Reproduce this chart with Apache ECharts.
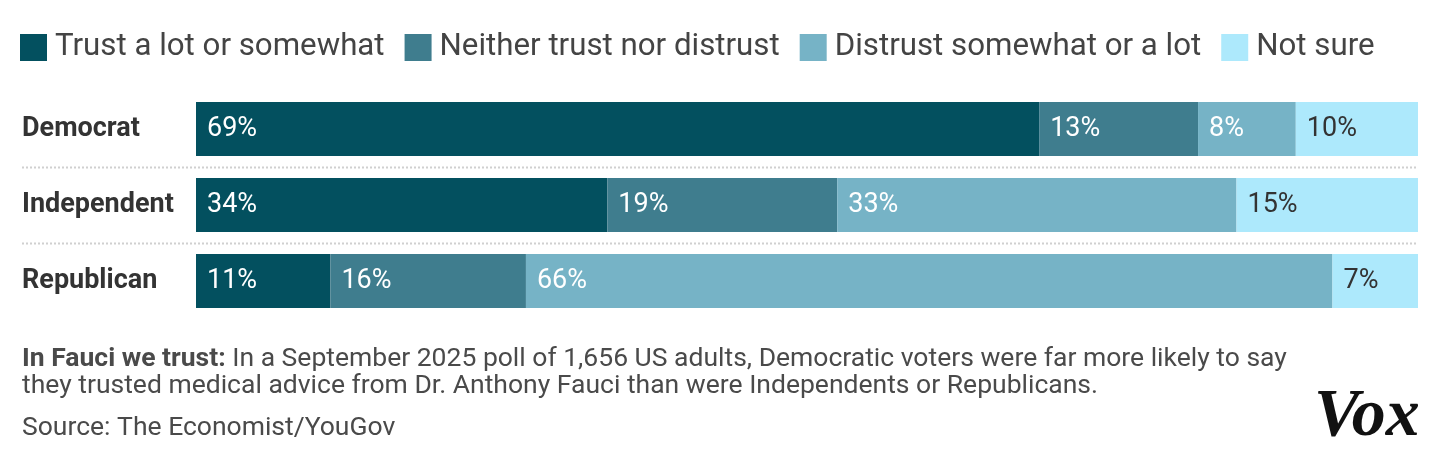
<!DOCTYPE html>
<html><head><meta charset="utf-8">
<script src="https://cdn.jsdelivr.net/npm/echarts@6/dist/echarts.min.js"></script>
<style>html,body{margin:0;padding:0;background:#fff;}#c{width:1440px;height:462px;}</style>
</head><body><div id="c"></div>
<script>
const categories = ['Democrat', 'Independent', 'Republican'];
const seriesNames = ['Trust a lot or somewhat', 'Neither trust nor distrust', 'Distrust somewhat or a lot', 'Not sure'];
const trust = [69, 34, 11];
const neither = [13, 19, 16];
const distrust = [8, 33, 66];
const notSure = [10, 15, 7];
const colors = ['#03505f', '#3f7d8e', '#76b3c6', '#ade9fc'];
const labelColors = ['#ffffff', '#ffffff', '#ffffff', '#333333'];

const raw = [trust, neither, distrust, notSure];
const rowSums = categories.map((_, i) => raw.reduce((s, arr) => s + arr[i], 0));
const FONT = 'Roboto, "Liberation Sans", sans-serif';

const chart = echarts.init(document.getElementById('c'), null, {renderer: 'canvas'});
const series = raw.map((arr, k) => ({
  name: seriesNames[k],
  type: 'bar',
  stack: 'all',
  barCategoryGap: '29%',
  data: arr.map((v, i) => ({value: v / rowSums[i] * 100, raw: v})),
  itemStyle: {color: colors[k]},
  label: {
    show: true,
    position: 'insideLeft',
    distance: 11,
    color: labelColors[k],
    fontFamily: FONT,
    fontSize: 27,
    formatter: p => p.data.raw + '%'
  },
  emphasis: {disabled: true}
}));

chart.setOption({
  animation: false,
  legend: {
    left: 20, top: 32, padding: 0,
    itemWidth: 27, itemHeight: 27, itemGap: 20,
    icon: 'rect',
    textStyle: {fontFamily: FONT, fontSize: 31.25, color: '#444', padding: [0, 0, 0, 3]},
    data: seriesNames
  },
  grid: {left: 196, right: 22, top: 91, bottom: 143},
  xAxis: {type: 'value', min: 0, max: 100, show: false},
  yAxis: {
    type: 'category', data: categories, inverse: true,
    axisLine: {show: false}, axisTick: {show: false}, splitLine: {show: false},
    axisLabel: {
      fontFamily: FONT, fontSize: 27, fontWeight: 'bold', color: '#333',
      align: 'left', margin: 174
    }
  },
  series: series
});

function addGraphics() {
  const elements = [];
  for (let i = 0; i < categories.length - 1; i++) {
    const y0 = chart.convertToPixel({yAxisIndex: 0}, categories[i]);
    const y1 = chart.convertToPixel({yAxisIndex: 0}, categories[i + 1]);
    const y = Math.round((y0 + y1) / 2) + 0.5;
    elements.push({
      type: 'line', silent: true,
      shape: {x1: 22, y1: y, x2: 1418, y2: y},
      style: {stroke: '#d0d0d0', lineWidth: 2, lineDash: [2, 2]}
    });
  }
  elements.push({
    type: 'text', left: 22, top: 346,
    style: {
      text: '{b|In Fauci we trust:} In a September 2025 poll of 1,656 US adults, Democratic voters were far more likely to say\nthey trusted medical advice from Dr. Anthony Fauci than were Independents or Republicans.',
      fontFamily: FONT, fontSize: 26.5, fill: '#4a4a4a', lineHeight: 27,
      rich: {b: {fontFamily: FONT, fontSize: 26.5, fontWeight: 'bold', fill: '#4a4a4a', lineHeight: 27}}
    }
  });
  elements.push({
    type: 'text', left: 22, top: 415,
    style: {text: 'Source: The Economist/YouGov', fontFamily: FONT, fontSize: 26.5, fill: '#4a4a4a'}
  });
  elements.push({
    type: 'text', left: 1314, top: 383,
    style: {text: 'Vox', fontFamily: '"Liberation Serif", serif', fontSize: 68, fontWeight: 'bold', fontStyle: 'italic', fill: '#111'}
  });
  chart.setOption({graphic: {elements: elements}});
}
addGraphics();
</script>
</body></html>
